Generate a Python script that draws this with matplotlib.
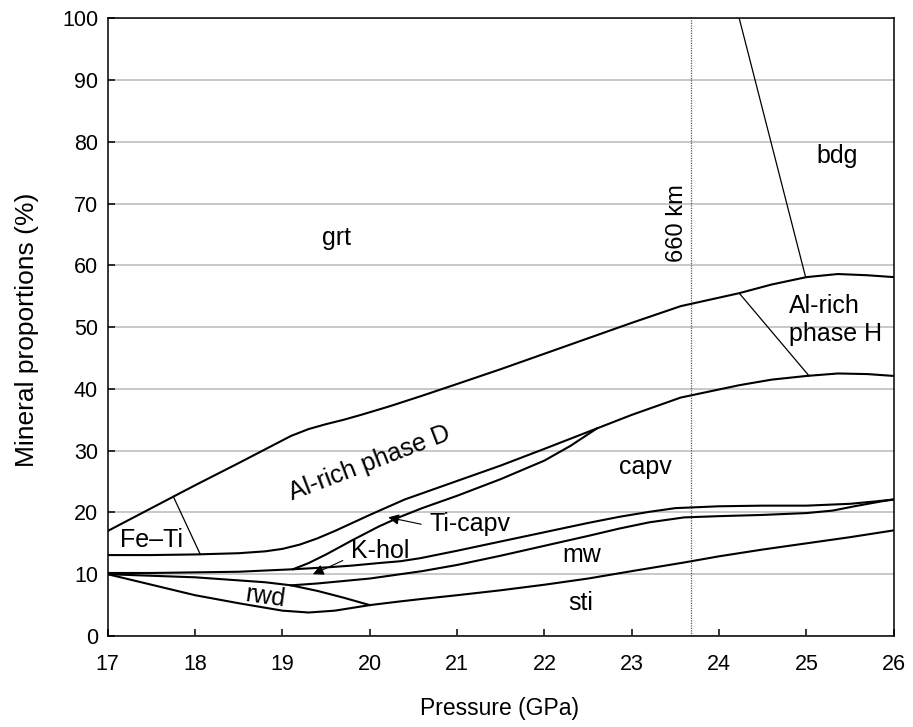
import matplotlib
matplotlib.use("Agg")
import matplotlib.pyplot as plt

# boundary curves (pressure in GPa, cumulative proportion in %)
grt_p = [17, 17.5, 18, 18.5, 18.8, 19.1, 19.3, 19.5, 19.7, 19.9, 20.23, 20.6, 21, 21.5, 22, 22.5, 23,
         23.56, 24.23, 24.6, 25, 25.36, 25.7, 26]
grt_v = [17, 20.7, 24.4, 28.0, 30.2, 32.4, 33.5, 34.3, 35.0, 35.8, 37.2, 38.9, 40.8, 43.2, 45.7, 48.2, 50.7,
         53.4, 55.5, 56.9, 58.1, 58.6, 58.4, 58.1]

ald_p = [17, 17.5, 18, 18.5, 18.8, 19.0, 19.2, 19.4, 19.6, 19.8, 20.0, 20.4, 20.9, 21.5, 22.0, 22.6,
         23.0, 23.56, 24.23, 24.6, 25.0, 25.36, 25.7, 26]
ald_v = [13.1, 13.1, 13.2, 13.4, 13.7, 14.1, 14.8, 15.8, 17.0, 18.3, 19.6, 22.1, 24.6, 27.6, 30.3, 33.6,
         35.8, 38.6, 40.6, 41.5, 42.1, 42.5, 42.4, 42.1]

ticapv_p = [19.12, 19.3, 19.5, 19.8, 20.1, 20.35, 20.6, 21.0, 21.5, 22.0, 22.3, 22.6]
ticapv_v = [10.8, 11.8, 13.2, 15.5, 17.7, 19.3, 20.7, 22.7, 25.4, 28.4, 30.8, 33.6]

khol_p = [17, 17.5, 18, 18.5, 19.12, 19.5, 19.8, 20.1, 20.35, 20.58, 21, 21.5, 22, 22.5, 22.86,
          23.2, 23.5, 24.0, 24.5, 25.0, 25.5, 25.8, 26]
khol_v = [10.2, 10.2, 10.3, 10.4, 10.8, 11.1, 11.4, 11.8, 12.1, 12.6, 13.8, 15.3, 16.8, 18.3, 19.3,
          20.1, 20.7, 21.0, 21.1, 21.1, 21.4, 21.8, 22.1]

mw_p = [19.1, 19.4, 19.7, 20.0, 20.35, 20.6, 21, 21.5, 22, 22.5, 22.86, 23.2, 23.6, 24, 24.5, 25,
        25.3, 25.55, 25.86, 26]
mw_v = [8.2, 8.5, 8.9, 9.3, 10.0, 10.5, 11.5, 13.0, 14.6, 16.2, 17.4, 18.4, 19.2, 19.4, 19.6, 19.9,
        20.3, 21.0, 21.8, 22.1]

rwd_p = [17, 17.5, 18, 18.5, 18.8, 19.1, 19.4, 19.7, 20.0]
rwd_v = [10, 9.75, 9.5, 9.0, 8.7, 8.2, 7.3, 6.2, 5.0]

sti_p = [17, 17.5, 18, 18.5, 19, 19.3, 19.6, 20, 20.35, 20.6, 21, 21.5, 22, 22.5, 23, 23.6, 24,
         24.5, 25, 25.5, 26]
sti_v = [10, 8.3, 6.6, 5.3, 4.1, 3.8, 4.1, 5.0, 5.6, 6.0, 6.6, 7.4, 8.3, 9.3, 10.5, 11.9, 12.9,
         14.0, 15.0, 16.0, 17.1]

# straight divider lines between neighbouring fields
fe_ti_p, fe_ti_v = [17.75, 18.06], [22.6, 13.2]
phase_h_p, phase_h_v = [24.23, 25.03], [55.5, 42.1]
bdg_p, bdg_v = [24.23, 24.99], [100, 58.1]

p_660 = 23.68

labels = [("grt", 19.62, 64.5, 0), ("bdg", 25.35, 77.7, 0), ("capv", 23.16, 27.4, 0),
          ("mw", 22.43, 13.1, 0), ("sti", 22.41, 5.3, 0), ("Fe\u2013Ti", 17.5, 15.6, 0),
          ("rwd", 18.8, 6.4, -8), ("Al-rich phase D", 20.0, 28.0, 21)]

font = ["Liberation Sans", "DejaVu Sans"]

fig = plt.figure(figsize=(9.13, 7.27), dpi=100)
ax = fig.add_axes([0.118, 0.1252, 0.861, 0.8496])

ax.set_xlim(17, 26)
ax.set_ylim(0, 100)
ax.set_xticks(range(17, 27))
ax.set_yticks(range(0, 101, 10))
ax.grid(axis="y", color="#c8c8c8", lw=1.4, zorder=0)
ax.set_axisbelow(True)

for p, v in [(grt_p, grt_v), (ald_p, ald_v), (ticapv_p, ticapv_v), (khol_p, khol_v),
             (mw_p, mw_v), (rwd_p, rwd_v), (sti_p, sti_v)]:
    ax.plot(p, v, color="black", lw=1.5, zorder=3)

for p, v in [(fe_ti_p, fe_ti_v), (phase_h_p, phase_h_v), (bdg_p, bdg_v)]:
    ax.plot(p, v, color="black", lw=0.9, zorder=3)

ax.axvline(p_660, color="#555555", lw=0.9, ls=(0, (1, 1)), zorder=2)
ax.text(p_660 - 0.16, 66.9, "660 km", rotation=90, ha="center", va="center",
        fontsize=17, family=font)

for txt, x, y, rot in labels:
    ax.text(x, y, txt, ha="center", va="center", rotation=rot, fontsize=18,
            family=font, zorder=4)

ax.text(24.8, 51.2, "Al-rich\nphase H", ha="left", va="center", fontsize=18,
        family=font, linespacing=1.2)

ax.annotate("", xy=(20.18, 19.3), xytext=(20.62, 18.0),
            arrowprops=dict(arrowstyle="-|>", color="black", lw=0.8, mutation_scale=16))
ax.text(20.68, 18.1, "Ti-capv", ha="left", va="center", fontsize=18, family=font)

ax.annotate("", xy=(19.32, 9.8), xytext=(19.72, 12.4),
            arrowprops=dict(arrowstyle="-|>", color="black", lw=0.8, mutation_scale=16))
ax.text(19.78, 13.8, "K-hol", ha="left", va="center", fontsize=18, family=font)

for s in ax.spines.values():
    s.set_linewidth(1.1)
ax.tick_params(axis="both", direction="in", length=5, width=1.1, labelsize=15.5)
ax.tick_params(axis="x", pad=13)
ax.tick_params(axis="y", pad=7)
for lab in ax.get_xticklabels() + ax.get_yticklabels():
    lab.set_family(font)

ax.set_xlabel("Pressure (GPa)", fontsize=16.5, family=font)
ax.set_ylabel("Mineral proportions (%)", fontsize=19, family=font)
ax.xaxis.set_label_coords(0.499, -0.098)
ax.yaxis.set_label_coords(-0.088, 0.495)

fig.savefig("out.png", dpi=100)
